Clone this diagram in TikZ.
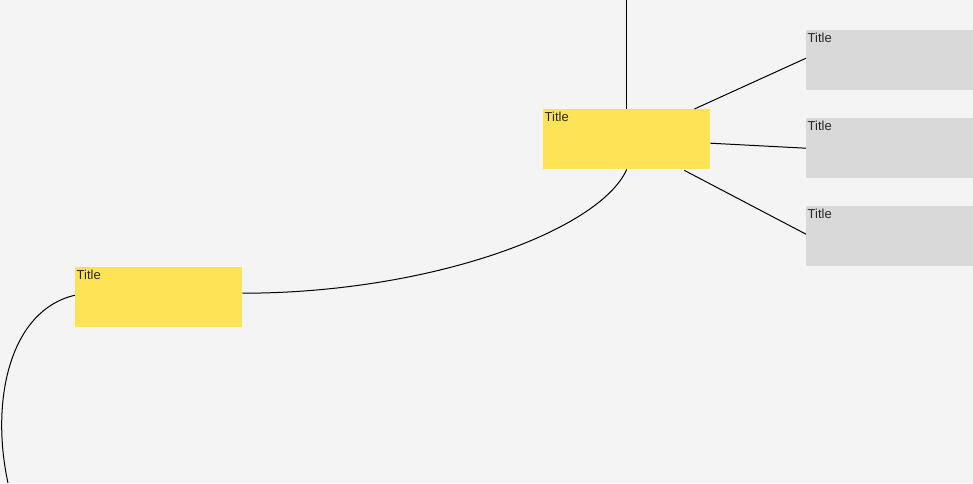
\documentclass[tikz,border=0pt]{standalone}
\usepackage{fontspec}
\setmainfont{Liberation Sans}
\usetikzlibrary{calc}
\definecolor{bg}{HTML}{F4F4F4}
\definecolor{ylw}{HTML}{FFE357}
\definecolor{gry}{HTML}{D9D9D9}
\begin{document}
\begin{tikzpicture}[x=1pt,y=-1pt,
  box/.style={minimum width=167pt,minimum height=60pt,inner sep=0pt,anchor=north west,
    label={[anchor=north west,inner xsep=1.5pt,inner ysep=2.5pt,font=\fontsize{13}{15}\selectfont,text=black!85]north west:Title}},
  ybox/.style={box,fill=ylw},
  gbox/.style={box,fill=gry},
  conn/.style={draw=black,line width=1pt}]
\fill[bg] (0,0) rectangle (973,483);
\useasboundingbox (0,0) rectangle (973,483);
\node[ybox] (y1) at (543,109) {};
\node[ybox] (y2) at (75,267) {};
\node[gbox] (g1) at (806,30) {};
\node[gbox] (g2) at (806,118) {};
\node[gbox] (g3) at (806,206) {};
\coordinate (top) at ($(y1.north)+(0,-110)$);
\coordinate (bot) at (8,483);
\draw[conn] (y1.north) -- (top);
\draw[conn] ($(y1.north east)+(-16,0)$) -- ($(g1.west)+(0,-2)$);
\draw[conn] ($(y1.east)+(0,4)$) -- (g2.west);
\draw[conn] ($(y1.south east)+(-26,1)$) -- ($(g3.west)+(0,-2)$);
\draw[conn] (y1.south) .. controls +(-27,61) and +(188,0) .. ($(y2.east)+(0,-4)$);
\draw[conn] ($(y2.west)+(0,-2)$) .. controls +(-65,15) and +(-18,-83) .. (bot);
\end{tikzpicture}
\end{document}
